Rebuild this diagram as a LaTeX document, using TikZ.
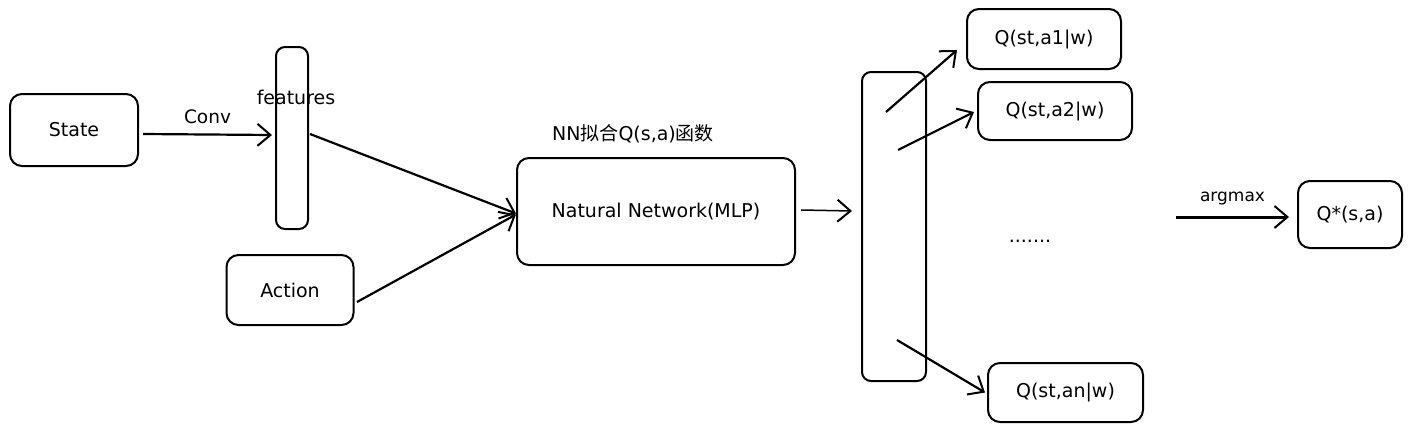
\documentclass[tikz,border=0pt]{standalone}
\usepackage{fontspec}
\setmainfont{DejaVu Sans}
\newfontfamily\cjk{Noto Sans CJK SC}
\usetikzlibrary{arrows.meta}
\begin{document}
\begin{tikzpicture}[x=1pt,y=-1pt,
  box/.style={draw=black,line width=2pt,rounded corners=12pt,inner sep=0pt,font=\fontsize{19}{22}\selectfont},
  bar/.style={draw=black,line width=2pt,rounded corners=9pt,inner sep=0pt},
  lbl/.style={font=\fontsize{19}{22}\selectfont,inner sep=0pt},
  arr/.style={draw=black,line width=2.2pt,-{Straight Barb[length=13pt,width=22pt,line width=2pt]}}]
\useasboundingbox (0,0) rectangle (1411,431);
% nodes
\node[box,minimum width=128pt,minimum height=72pt] (state) at (74,130) {State};
\node[bar,minimum width=32pt,minimum height=182pt] (feat) at (292,138) {};
\node[lbl] (featlbl) at (296,97) {features};
\node[box,minimum width=127pt,minimum height=70pt] (action) at (290,290) {Action};
\node[box,minimum width=278pt,minimum height=107pt] (nn) at (656,211.5) {Natural Network(MLP)};
\node[lbl] (nnlbl) at (633,134) {NN{\cjk 拟合}Q(s,a){\cjk 函数}};
\node[bar,minimum width=64pt,minimum height=309pt] (out) at (894,226.5) {};
\node[box,minimum width=154pt,minimum height=60pt] (q1) at (1044,39) {Q(st,a1|w)};
\node[box,minimum width=154pt,minimum height=58pt] (q2) at (1055,111) {Q(st,a2|w)};
\node[box,minimum width=155pt,minimum height=59pt] (qn) at (1065.5,392.5) {Q(st,an|w)};
\node[lbl] (dots) at (1030,241) {.......};
\node[box,minimum width=104pt,minimum height=67pt] (qs) at (1350,214.5) {Q*(s,a)};
% coordinates
\coordinate (s1) at (886,112);
\coordinate (s2) at (898,150);
\coordinate (sn) at (897,340);
\coordinate (sa) at (1176,217);
\coordinate (fo) at (310,134);
\coordinate (ao) at (357,302);
% connectors
\draw[arr] ([xshift=4pt,yshift=-4pt]state.east) -- node[lbl,above=10pt,font=\fontsize{18.5}{21}\selectfont] (convlbl) {Conv} ([xshift=-3pt]feat.west |- 0,135);
\draw[arr] (fo) -- ([yshift=-2pt]nn.west);
\draw[arr] (ao) -- ([yshift=-3pt]nn.west);
\draw[arr,line width=1.5pt] ([xshift=5pt,yshift=1.5pt]nn.east) -- ([xshift=-9pt]out.west |- 0,211);
\draw[arr] (s1) -- ([xshift=-9pt,yshift=-11pt]q1.west);
\draw[arr] (s2) -- ([xshift=-3pt,yshift=-1pt]q2.west);
\draw[arr] (sn) -- ([xshift=-2pt]qn.west);
\draw[arr,line width=3pt] (sa) -- node[lbl,above=10pt,font=\fontsize{17}{20}\selectfont] (arglbl) {argmax} ([xshift=-8pt,yshift=-2.5pt]qs.west);
\end{tikzpicture}
\end{document}
